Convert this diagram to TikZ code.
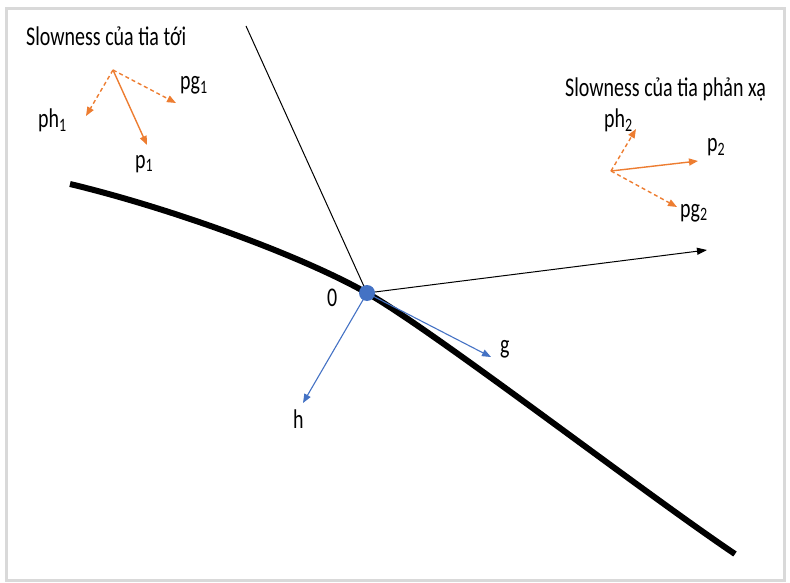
\documentclass[tikz,border=0pt]{standalone}
\usepackage{fontspec}
\setmainfont{Carlito}[FakeStretch=0.74]
\usetikzlibrary{arrows.meta, positioning}

\definecolor{vecorange}{HTML}{ED7D31}
\definecolor{vecblue}{HTML}{4472C4}
\definecolor{framegray}{HTML}{D9D9D9}

\tikzset{
  lbl/.style={anchor=base west, inner sep=0pt, font=\fontsize{27}{31}\selectfont},
  slow/.style={vecorange, line width=1.4pt, -{Triangle[length=9pt,width=7pt]}},
  slowdash/.style={slow, dash pattern=on 4pt off 3pt},
  geo/.style={vecblue, line width=1.1pt, -{Triangle[length=9pt,width=7pt]}},
  ray/.style={black, line width=1pt},
}

\begin{document}
\begin{tikzpicture}[x=1pt, y=-1pt]
          \useasboundingbox (0,0) rectangle (790,583);
          \draw[framegray, line width=3pt] (6,9) rectangle (784,580);

          % Nodes
          \coordinate (o) at (367,293);
          \coordinate (left) at (70,184);
          \coordinate (end) at (735,554);
          \coordinate (top) at (246,26);
          \coordinate (right) at (707,250);
          \coordinate (gtip) at (491,357);
          \coordinate (htip) at (303,403);

          \coordinate (s1) at (113,70);
          \coordinate (p1tip) at (147,145);
          \coordinate (ph1tip) at (86,116);
          \coordinate (pg1tip) at (176,103);

          \coordinate (s2) at (611,171);
          \coordinate (p2tip) at (698,161);
          \coordinate (ph2tip) at (636,129);
          \coordinate (pg2tip) at (677,207);

          \node[lbl] (title1) at (26,46) {Slowness của tia tới};
          \node[lbl] (title2) at (565,97) {Slowness của tia phản xạ};
          \node[lbl] (ph1) at (38,128) {ph\textsubscript{1}};
          \node[lbl] (pg1) at (180,90) {pg\textsubscript{1}};
          \node[lbl] (p1) at (135,168) {p\textsubscript{1}};
          \node[lbl] (ph2) at (604,128) {ph\textsubscript{2}};
          \node[lbl] (p2) at (707,152) {p\textsubscript{2}};
          \node[lbl] (pg2) at (680,217) {pg\textsubscript{2}};
          \node[lbl] (zero) at (327,306) {0};
          \node[lbl] (g) at (500,353) {g};
          \node[lbl] (h) at (293,428) {h};

          % Interface
          \draw[line width=6pt] (left) .. controls (170,208) and (300,255) .. (o)
            .. controls (434,331) and (640,490) .. (end);

          % Edges
          \draw[ray] (top) -- (o);
          \draw[ray, -{Triangle[length=10pt,width=7pt]}] (o) -- (right);
          \draw[geo] (o) -- (gtip);
          \draw[geo] (o) -- (htip);

          \draw[slow] (s1) -- (p1tip);
          \draw[slowdash] (s1) -- (ph1tip);
          \draw[slowdash] (s1) -- (pg1tip);

          \draw[slow] (s2) -- (p2tip);
          \draw[slowdash] (s2) -- (ph2tip);
          \draw[slowdash] (s2) -- (pg2tip);

          \node[circle, fill=vecblue, minimum size=16pt, inner sep=0pt] (dot) at (o) {};

        \end{tikzpicture}
\end{document}
